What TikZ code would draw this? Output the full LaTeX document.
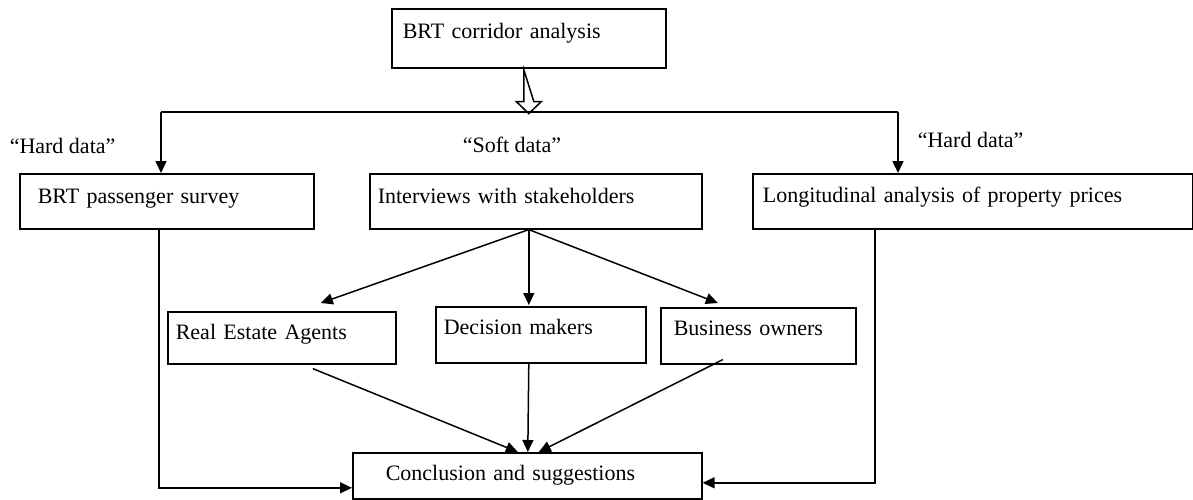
\documentclass[tikz,border=0pt]{standalone}
\usepackage{fontspec}
\setmainfont{Liberation Serif}
\usetikzlibrary{arrows.meta, calc}
\tikzstyle{block}=[draw,rectangle,anchor=north west,inner ysep=0pt,align=left,line width=0.8pt]
\tikzstyle{tag}=[anchor=base west,inner sep=0pt]
\tikzstyle{every node}=[font=\fontsize{11}{13}\selectfont]

\begin{document}
\begin{tikzpicture}[x=0.5pt,y=-0.5pt,line width=0.75pt,>={Triangle[length=6pt,width=5.5pt]}]
  \useasboundingbox (0,0) rectangle (1193,499);
  \node[block, inner xsep=5.5pt, text width=126pt, text height=15pt, text depth=14.5pt] (corridor) at (391,8) {BRT corridor analysis};
  \node[block, inner xsep=9pt, text width=129pt, text height=15pt, text depth=12.5pt] (survey) at (19,173) {BRT passenger survey};
  \node[block, inner xsep=4pt, text width=158pt, text height=15pt, text depth=12.5pt] (interv) at (369,173) {Interviews with stakeholders};
  \node[block, inner xsep=5pt, text width=210pt, text height=14.5pt, text depth=13pt] (longit) at (752,173) {Longitudinal analysis of property prices};
  \node[block, inner xsep=4pt, text width=106pt, text height=14pt, text depth=12pt] (agents) at (167,311) {Real Estate Agents};
  \node[block, inner xsep=4pt, text width=97pt, text height=14pt, text depth=14pt] (deciders) at (435,306) {Decision makers};
  \node[block, inner xsep=6.5pt, text width=84.5pt, text height=14pt, text depth=14pt] (owners) at (660,307) {Business owners};
  \node[block, inner xsep=16.5pt, text width=141.5pt, text height=14pt, text depth=9pt] (concl) at (352,452) {Conclusion and suggestions};
  \node[tag] (hardL) at (9,153) {“Hard data”};
  \node[tag] (soft) at (462,152) {“Soft data”};
  \node[tag] (hardR) at (917,147) {“Hard data”};
  % hollow arrow down to the split line
  \draw[fill=white] ($(corridor.south)+(-5,1)$) -- ++(0,32) -- ++(-7.5,0) -- ++(12.5,12) -- ++(12.5,-12) -- ++(-7.5,0) -- cycle;
  \coordinate (busL) at (161,112);
  \coordinate (busR) at (898,112);
  \draw (busL) -- (busR);
  \draw[->] (busL) -- (busL |- survey.north);
  \draw[->] (busR) -- (busR |- longit.north);
  % stakeholder groups
  \coordinate (fan) at ($(interv.south)+(-7,0)$);
  \draw[->] (fan) -- ($(agents.north)+(39,-8)$);
  \draw[->] (fan) -- ($(deciders.north)+(-12,-1)$);
  \draw[->] (fan) -- ($(owners.north)+(-40.5,-4)$);
  \draw[->] ($(agents.south)+(31,4)$) -- ($(concl.north)+(-9.5,0)$);
  \draw[->] ($(deciders.south)+(-12,0)$) -- ($(concl.north)+(0.5,0)$);
  \draw[->] ($(owners.south)+(-35.5,-5)$) -- ($(concl.north)+(11.5,0)$);
  % hard data into the conclusion
  \draw[->] ($(survey.south)+(-8,0)$) |- ($(concl.west)+(0,12)$);
  \draw[->] ($(longit.south)+(-98,0)$) |- ($(concl.east)+(0,7)$);
\end{tikzpicture}
\end{document}
